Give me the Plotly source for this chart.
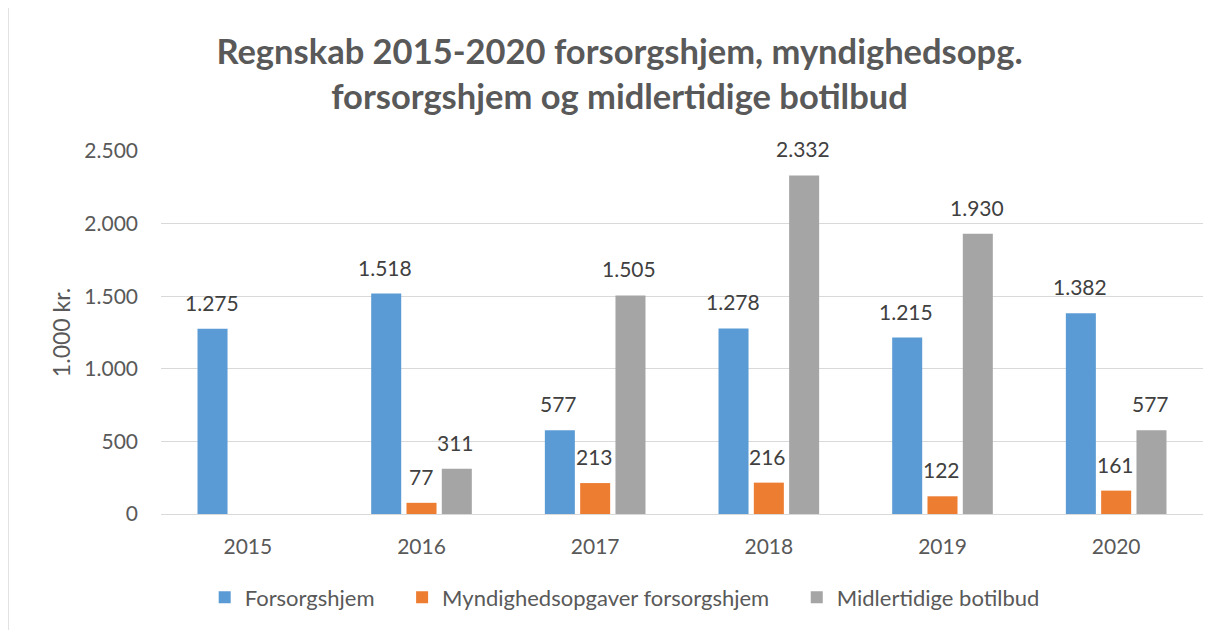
import plotly.graph_objects as go

years = ["2015", "2016", "2017", "2018", "2019", "2020"]
forsorgshjem = [1275, 1518, 577, 1278, 1215, 1382]
myndighed = [None, 77, 213, 216, 122, 161]
botilbud = [None, 311, 1505, 2332, 1930, 577]

series = [
    ("Forsorgshjem", forsorgshjem, "#5B9BD5"),
    ("Myndighedsopgaver forsorgshjem", myndighed, "#ED7D31"),
    ("Midlertidige botilbud", botilbud, "#A5A5A5"),
]

FONT = "Lato, 'Open Sans', sans-serif"
GREY = "#595959"

# page body has an 8px margin, so the figure is a bit smaller than the window
W, H = 1223, 622
L, R, T, B = 153, 28, 143, 116
BARGAP = 0.39
PAD = "\u00a0" * 4  # extra room between legend entries

fig = go.Figure()
for k, (name, vals, color) in enumerate(series):
    fig.add_trace(go.Bar(
        x=years, y=vals, name=name + (PAD if k < len(series) - 1 else ""),
        marker=dict(color=color, line=dict(width=0)),
    ))

# data labels a little above each bar, like Excel
slot = (W - L - R) / len(years) * (1 - BARGAP) / len(series)
for i, (name, vals, color) in enumerate(series):
    for j, v in enumerate(vals):
        if v is None:
            continue
        fig.add_annotation(
            x=j, y=v, text=f"{v:,}".replace(",", "."),
            xshift=(i - 1) * slot - 1, yshift=12, yanchor="bottom",
            showarrow=False,
            font=dict(size=21, color="#404040", family=FONT),
        )

fig.update_layout(
    width=W, height=H,
    margin=dict(l=L, r=R, t=T, b=B),
    paper_bgcolor="white", plot_bgcolor="white",
    barmode="group", bargap=BARGAP, bargroupgap=0.15,
    font=dict(family=FONT, color=GREY),
    title=dict(
        text="Regnskab 2015-2020 forsorgshjem, myndighedsopg.<br>forsorgshjem og midlertidige botilbud",
        x=0.5, xanchor="center", y=0.91, yanchor="top",
        font=dict(size=34.5, color=GREY, family=FONT, weight="bold"),
    ),
    legend=dict(
        orientation="h", x=0.445, xanchor="center", y=-0.172, yanchor="top",
        font=dict(size=22, color=GREY), itemwidth=30,
    ),
    showlegend=True,
    separators=",.",
)
fig.update_xaxes(type="category", range=[-0.5, len(years) - 0.5],
                 showline=True, linecolor="#D9D9D9", ticks="", ticklabelstandoff=14,
                 automargin=False, tickfont=dict(size=21, color=GREY))
fig.update_yaxes(range=[0, 2500], dtick=500, tickformat=",", automargin=False,
                 gridcolor="#D9D9D9", zeroline=False, ticks="", ticklabelstandoff=22,
                 tickfont=dict(size=21, color=GREY),
                 title=dict(text="1.000 kr.", font=dict(size=23, color=GREY), standoff=7))

# outer chart border
fig.add_shape(type="rect", xref="paper", yref="paper",
              x0=-L / (W - L - R), x1=1 + R / (W - L - R) + 0.01,
              y0=-B / (H - T - B) - 0.05, y1=1 + (T + 2) / (H - T - B),
              line=dict(color="#D9D9D9", width=1.5), fillcolor="rgba(0,0,0,0)")

fig.write_html("out.html")
